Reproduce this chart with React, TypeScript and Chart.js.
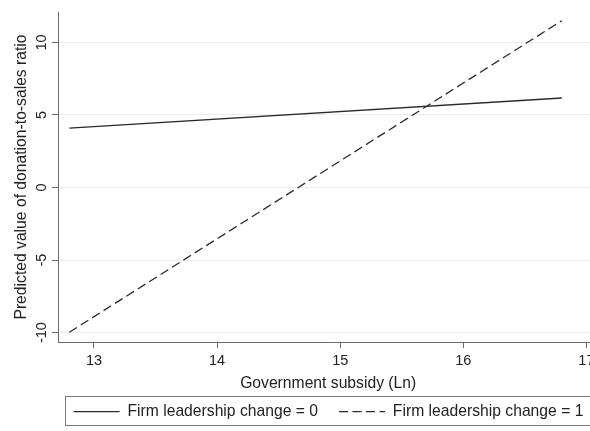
import React, { useEffect, useRef } from 'react';
import { Chart, registerables } from 'chart.js';

Chart.register(...registerables);

// ---- data ----
const subsidyLn = [12.8, 16.8];
const leadershipChange0 = [4.1, 6.17];
const leadershipChange1 = [-9.98, 11.5];
const xTicks = [13, 14, 15, 16, 17];
const yTicks = [-10, -5, 0, 5, 10];
const seriesLabels = ['Firm leadership change = 0', 'Firm leadership change = 1'];
const xTitle = 'Government subsidy (Ln)';
const yTitle = 'Predicted value of donation-to-sales ratio';

const FONT = "'Liberation Sans', Arial, sans-serif";
const TEXT = '#222222';
const AXIS = '#6b6b6b';
const LINE = '#2a2a2a';
const LEGEND_FS = 15.7;

export default function App() {
  const ref = useRef<HTMLCanvasElement>(null);

  useEffect(() => {
    if (!ref.current) return;

    const legendFrame = {
      id: 'legendFrame',
      afterLayout(chart: any) {
        const lg = chart.legend;
        if (!lg) return;
        const d = 328.5 - (lg.left + lg.right) / 2;
        lg.left += d;
        lg.right += d;
      },
      afterDraw(chart: any) {
        const lg = chart.legend;
        if (!lg || !lg.lineWidths) return;
        const ctx = chart.ctx;
        const pad = lg.options.labels.padding;
        const cx = (lg.left + lg.right) / 2;
        const half = (lg.lineWidths[0] - pad) / 2 + 9;
        const cy = lg.top + pad + LEGEND_FS / 2;
        ctx.save();
        ctx.strokeStyle = '#7a7a7a';
        ctx.lineWidth = 1;
        ctx.strokeRect(Math.round(cx - half) + 0.5, Math.round(cy - 15.6) + 0.5, Math.round(2 * half), 29);
        ctx.restore();
      },
    };

    const chart = new Chart(ref.current, {
      type: 'line',
      data: {
        datasets: [
          {
            label: seriesLabels[0],
            data: subsidyLn.map((x, i) => ({ x, y: leadershipChange0[i] })),
            borderColor: LINE,
            backgroundColor: LINE,
            borderWidth: 1.3,
            pointRadius: 0,
            tension: 0,
            fill: false,
          },
          {
            label: seriesLabels[1],
            data: subsidyLn.map((x, i) => ({ x, y: leadershipChange1[i] })),
            borderColor: LINE,
            backgroundColor: LINE,
            borderWidth: 1.3,
            borderDash: [9, 4.5],
            pointRadius: 0,
            tension: 0,
            fill: false,
          },
        ],
      },
      options: {
        responsive: false,
        maintainAspectRatio: false,
        devicePixelRatio: 1,
        animation: false,
        layout: { padding: { top: 12, left: 0, right: 0, bottom: 1.6 } },
        plugins: {
          tooltip: { enabled: false },
          legend: {
            position: 'bottom',
            align: 'center',
            labels: {
              usePointStyle: true,
              pointStyle: 'line',
              pointStyleWidth: 46,
              padding: 21,
              color: TEXT,
              font: { family: FONT, size: LEGEND_FS },
              generateLabels: (chart: any) => {
                const items = (Chart as any).defaults.plugins.legend.labels.generateLabels(chart);
                return items.map((it: any) => {
                  const ds = chart.data.datasets[it.datasetIndex];
                  return {
                    ...it,
                    lineDash: ds.borderDash || [],
                    lineWidth: ds.borderWidth,
                    strokeStyle: ds.borderColor,
                  };
                });
              },
            },
          },
        },
        scales: {
          x: {
            type: 'linear',
            min: 12.708,
            max: 17.097,
            afterBuildTicks: (s: any) => {
              s.ticks = xTicks.map((v) => ({ value: v }));
            },
            afterFit: (s: any) => {
              s.height = 40.7;
            },
            grid: { drawOnChartArea: false, tickLength: 6, tickColor: AXIS, tickWidth: 1 },
            border: { color: AXIS, width: 1 },
            ticks: {
              padding: 4.5,
              maxRotation: 0,
              autoSkip: false,
              color: TEXT,
              font: { family: FONT, size: 14.5 },
            },
            title: {
              display: true,
              text: xTitle,
              color: TEXT,
              font: { family: FONT, size: LEGEND_FS },
              padding: { top: 0, bottom: -10 },
            },
          },
          y: {
            type: 'linear',
            min: -10.65,
            max: 12.1,
            afterBuildTicks: (s: any) => {
              s.ticks = yTicks.map((v) => ({ value: v }));
            },
            afterFit: (s: any) => {
              s.width = 58;
            },
            grid: { color: '#e6eef1', lineWidth: 1, tickLength: 6, tickColor: AXIS, tickWidth: 1 },
            border: { color: AXIS, width: 1 },
            ticks: {
              minRotation: 90,
              maxRotation: 90,
              crossAlign: 'center',
              padding: -0.5,
              color: TEXT,
              font: { family: FONT, size: 14.5 },
            },
            title: {
              display: true,
              text: yTitle,
              color: TEXT,
              font: { family: FONT, size: LEGEND_FS },
              padding: { top: 12.5, bottom: 0 },
            },
          },
        },
      } as any,
      plugins: [legendFrame],
    });

    return () => chart.destroy();
  }, []);

  return (
    <div
      style={{
        position: 'fixed',
        left: 0,
        top: 0,
        width: 590,
        height: 431,
        overflow: 'hidden',
        background: '#ffffff',
      }}
    >
      <canvas ref={ref} width={599} height={431} style={{ display: 'block', width: 599, height: 431 }} />
    </div>
  );
}
